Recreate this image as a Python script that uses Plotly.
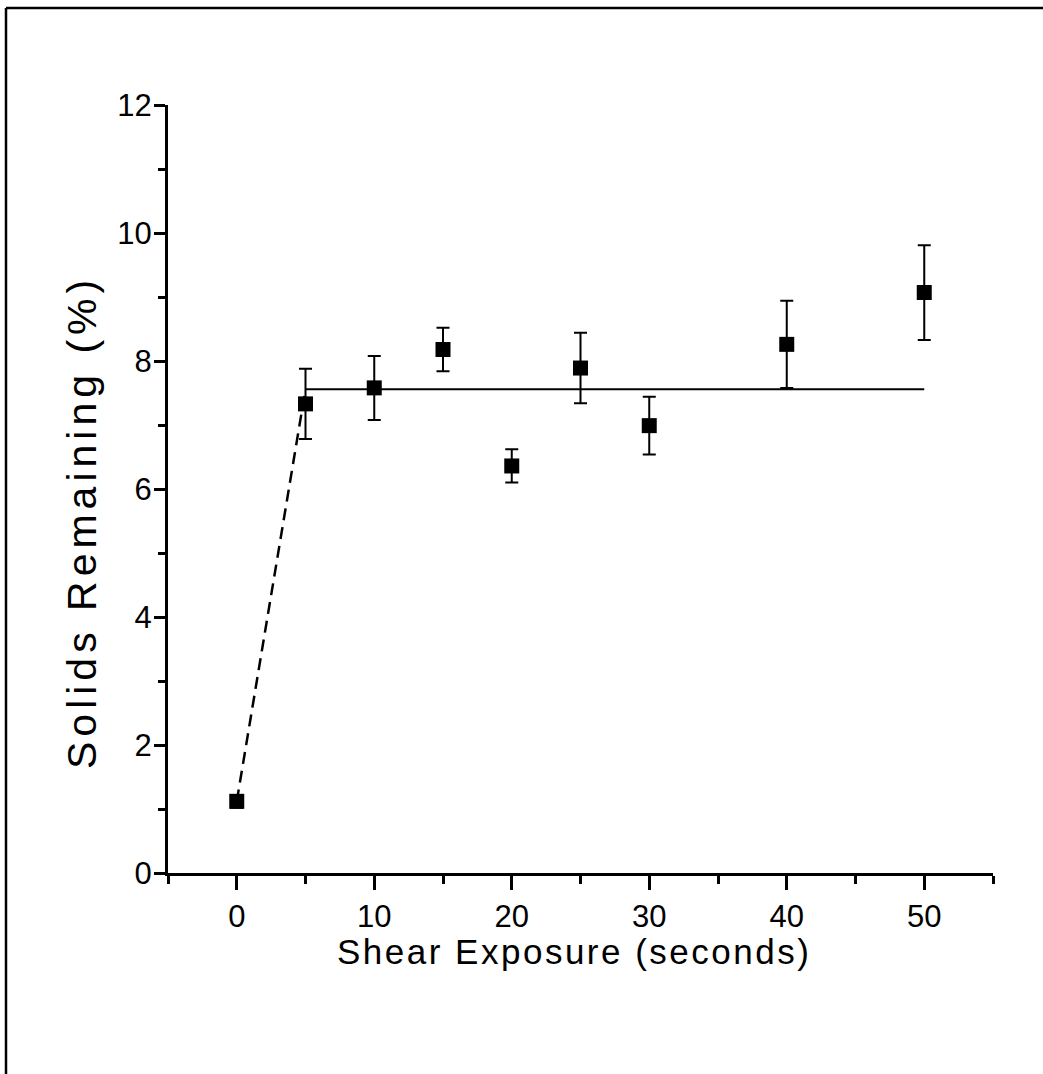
import plotly.graph_objects as go

# Data
shear_s = [0, 5, 10, 15, 20, 25, 30, 40, 50]
solids_pct = [1.12, 7.33, 7.58, 8.18, 6.36, 7.89, 6.99, 8.26, 9.07]
solids_err = [0.10, 0.55, 0.50, 0.34, 0.26, 0.55, 0.45, 0.68, 0.74]

dash_x = [0, 5]
dash_y = [1.12, 7.56]
flat_x = [5, 50]
flat_y = [7.56, 7.56]

x_ticks = [0, 10, 20, 30, 40, 50]
x_minor = [-5, 5, 15, 25, 35, 45, 55]
y_ticks = [0, 2, 4, 6, 8, 10, 12]
y_minor = [1, 3, 5, 7, 9, 11]

x_title = "Shear Exposure (seconds)"
y_title = "Solids Remaining (%)"

W, H = 1043, 1074
L, R, T, B = 168, 50, 105, 201
PW, PH = W - L - R, H - T - B


def px(xp):
    return (xp - L) / PW


def py(yp):
    return (H - B - yp) / PH


FONT = "Liberation Sans, Arial, sans-serif"

fig = go.Figure()
fig.add_trace(go.Scatter(x=dash_x, y=dash_y, mode="lines",
                         line=dict(color="black", width=2.5, dash="12px,7px"),
                         showlegend=False, hoverinfo="skip"))
fig.add_trace(go.Scatter(x=flat_x, y=flat_y, mode="lines",
                         line=dict(color="black", width=2),
                         showlegend=False, hoverinfo="skip"))
fig.add_trace(go.Scatter(x=shear_s, y=solids_pct, mode="markers",
                         marker=dict(symbol="square", size=15, color="black"),
                         error_y=dict(type="data", array=solids_err, visible=True,
                                      color="black", thickness=2, width=6.5),
                         showlegend=False))

fig.update_layout(
    width=W, height=H,
    margin=dict(l=L, r=R, t=T, b=B, pad=0),
    paper_bgcolor="white", plot_bgcolor="white",
    font=dict(family=FONT, color="black", size=31),
    xaxis=dict(range=[-5, 55], tickvals=x_ticks, ticks="outside", ticklen=14,
               tickwidth=2.5, tickcolor="black", showline=True, linewidth=3,
               linecolor="black", showgrid=False, zeroline=False,
               ticklabelstandoff=0,
               tickfont=dict(family=FONT, size=31, color="black"),
               minor=dict(tickvals=x_minor, ticks="outside", ticklen=8,
                          tickwidth=2.5, tickcolor="black", showgrid=False)),
    yaxis=dict(range=[0, 12], tickvals=y_ticks, ticks="outside", ticklen=11,
               tickwidth=2.5, tickcolor="black", showline=True, linewidth=3,
               linecolor="black", showgrid=False, zeroline=False,
               ticklabelstandoff=-4,
               tickfont=dict(family=FONT, size=31, color="black"),
               minor=dict(tickvals=y_minor, ticks="outside", ticklen=7,
                          tickwidth=2.5, tickcolor="black", showgrid=False)),
    annotations=[
        dict(text='<span style="letter-spacing:2.5px">' + x_title + '</span>',
             xref="paper", yref="paper",
             x=px(574), y=py(951), showarrow=False,
             font=dict(family=FONT, size=35, color="black"),
             xanchor="center", yanchor="middle"),
        dict(text='<span style="letter-spacing:5px">' + y_title + '</span>',
             xref="paper", yref="paper",
             x=px(82), y=py(522), showarrow=False, textangle=-90,
             font=dict(family=FONT, size=41, color="black"),
             xanchor="center", yanchor="middle"),
    ],
    shapes=[
        dict(type="line", xref="paper", yref="paper",
             x0=px(6), x1=px(W + 2), y0=py(8), y1=py(8),
             line=dict(color="black", width=2.5)),
        dict(type="line", xref="paper", yref="paper",
             x0=px(6), x1=px(6), y0=py(8), y1=py(H + 2),
             line=dict(color="black", width=2.5)),
    ],
)

fig.write_html("out.html")
